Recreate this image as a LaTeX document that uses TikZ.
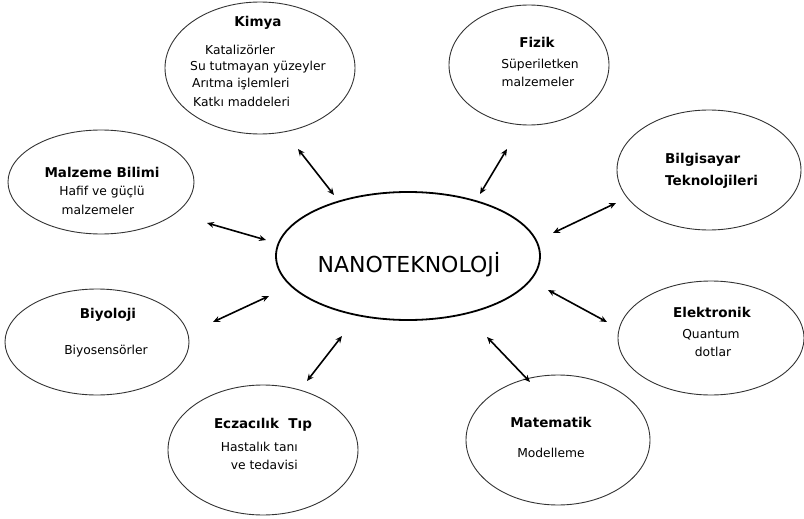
\documentclass[tikz,border=0pt]{standalone}
\usepackage{fontspec}
\setmainfont{DejaVu Sans}
\usetikzlibrary{shapes.geometric,arrows.meta}
\tikzset{
  field/.style={draw=black!80, line width=0.9pt, ellipse, inner sep=0pt},
  core/.style={draw=black, line width=1.8pt, ellipse, inner sep=0pt},
  ttl/.style={font=\bfseries\fontsize{13.5}{16}\selectfont, inner sep=0pt},
  txt/.style={font=\fontsize{12.3}{15}\selectfont, inner sep=0pt},
  link/.style={line width=1.6pt, {Stealth[length=7pt,width=6pt]}-{Stealth[length=7pt,width=6pt]}}
}
\begin{document}
\begin{tikzpicture}[x=1pt,y=-1pt]
\useasboundingbox (0,0) rectangle (804,519);
% ellipses
\node[core, minimum width=264pt, minimum height=128pt] (nano) at (408,256) {};
\node[field, minimum width=190pt, minimum height=132pt] (kimya) at (260,68) {};
\node[field, minimum width=160pt, minimum height=120pt] (fizik) at (529,65) {};
\node[field, minimum width=184pt, minimum height=120pt] (bilg) at (709,170) {};
\node[field, minimum width=186pt, minimum height=104pt] (malz) at (101,182) {};
\node[field, minimum width=184pt, minimum height=106pt] (biyo) at (97,342) {};
\node[field, minimum width=186pt, minimum height=114pt] (elek) at (711,338) {};
\node[field, minimum width=190pt, minimum height=130pt] (ecza) at (263,450) {};
\node[field, minimum width=184pt, minimum height=130pt] (mate) at (558,440) {};
% texts
\node[font=\fontsize{22}{26}\selectfont, inner sep=0pt] (nanot) at (409,265) {NANOTEKNOLOJİ};
\node[ttl] (kt) at (258,23) {Kimya};
\node[txt, anchor=west] (k1) at (205,50) {Katalizörler};
\node[txt, anchor=west] (k2) at (190,67) {Su tutmayan yüzeyler};
\node[txt, anchor=west] (k3) at (192,84) {Arıtma işlemleri};
\node[txt, anchor=west] (k4) at (193,102) {Katkı maddeleri};
\node[ttl] (ft) at (537,42) {Fizik};
\node[txt] (f1) at (540,65) {Süperiletken};
\node[txt] (f2) at (538,82) {malzemeler};
\node[ttl, anchor=west] (bt1) at (665,160) {Bilgisayar};
\node[ttl, anchor=west] (bt2) at (665,182) {Teknolojileri};
\node[ttl] (mt) at (102,172) {Malzeme Bilimi};
\node[txt] (m1) at (102,192) {Hafif ve güçlü};
\node[txt] (m2) at (98,210) {malzemeler};
\node[ttl] (yt) at (108,315) {Biyoloji};
\node[txt] (y1) at (106,351) {Biyosensörler};
\node[ttl] (et) at (712,312) {Elektronik};
\node[txt] (e1) at (711,335) {Quantum};
\node[txt] (e2) at (713,352) {dotlar};
\node[ttl] (ct) at (263,425) {Eczacılık\ \ Tıp};
\node[txt, anchor=east] (c1) at (298,447) {Hastalık tanı};
\node[txt, anchor=east] (c2) at (298,465) {ve tedavisi};
\node[ttl] (at) at (551,422) {Matematik};
\node[txt] (a1) at (551,453) {Modelleme};
% arrow ends
\coordinate (ka) at (298,149); \coordinate (kb) at (334,195);
\coordinate (fa) at (507,149); \coordinate (fb) at (480,194);
\coordinate (ba) at (616,203); \coordinate (bb) at (553,233);
\coordinate (ma) at (207,223); \coordinate (mb) at (266,240);
\coordinate (ya) at (213,322); \coordinate (yb) at (269,296);
\coordinate (ca) at (307,381); \coordinate (cb) at (342,336);
\coordinate (aa) at (530,382); \coordinate (ab) at (487,337);
\coordinate (ea) at (607,322); \coordinate (eb) at (548,290);
\draw[link] (ka) -- (kb);
\draw[link] (fa) -- (fb);
\draw[link] (ba) -- (bb);
\draw[link] (ma) -- (mb);
\draw[link] (ya) -- (yb);
\draw[link] (ca) -- (cb);
\draw[link] (aa) -- (ab);
\draw[link] (ea) -- (eb);
\end{tikzpicture}
\end{document}
